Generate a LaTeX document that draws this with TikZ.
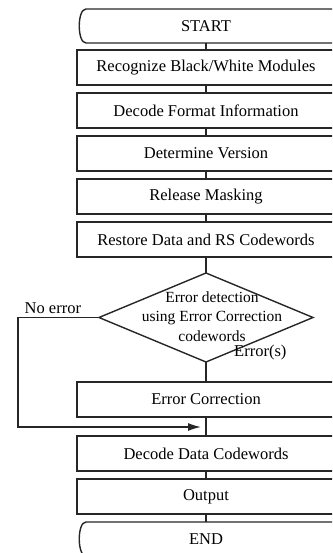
\documentclass[tikz,border=0pt]{standalone}
\usepackage{fontspec}
\setmainfont{Liberation Serif}
\usetikzlibrary{shapes, arrows.meta, positioning}

\begin{document}
\begin{tikzpicture}[x=1pt, y=1pt, node distance=8pt,
		font=\fontsize{16.5}{19.5}\selectfont,
		block/.style={
			rectangle,
			draw=black!85,
			line width=1.4pt,
			minimum width=258pt,
			minimum height=35pt,
			inner sep=0pt,
			outer sep=0pt,
			align=center
		},
		terminal/.style={
			rectangle,
			minimum width=258pt,
			minimum height=34pt,
			inner sep=0pt,
			outer sep=0pt
		},
		decision/.style={
			diamond,
			draw=black!85,
			line width=1.4pt,
			minimum width=214pt,
			minimum height=89pt,
			inner sep=0pt,
			outer sep=0pt
		},
		line/.style={line width=1.4pt, black!85},
		arrow/.style={-{Latex[length=13pt, width=8pt]}, line width=1.4pt, black!85}]

		\useasboundingbox (0,0) rectangle (332,-553);
		\clip (0,0) rectangle (332,-553);

		\node [terminal] (start) at (206,-26) {START};
		\node [block, below=7pt of start] (modules) {Recognize Black/White Modules};
		\node [block, below=of modules] (format) {Decode Format Information};
		\node [block, below=of format] (version) {Determine Version};
		\node [block, below=of version] (masking) {Release Masking};
		\node [block, below=of masking] (restore) {Restore Data and RS Codewords};
		\node [decision, below=16pt of restore] (detect) {};
		\node [align=center, font=\fontsize{15.5}{19.5}\selectfont] (detecttext) at ([xshift=6pt, yshift=1pt]detect.center) {Error detection\\using Error Correction\\codewords};
		\node [above right=1pt and 27pt of detect.south, inner sep=1pt] (errors) {Error(s)};
		\node [block, below=20pt of detect] (correct) {Error Correction};
		\coordinate [below=10pt of correct] (merge);
		\node [block, below=19pt of correct] (decode) {Decode Data Codewords};
		\node [block, below=of decode] (output) {Output};
		\node [terminal, below=of output] (end) {END};

		% terminal outlines, open to the right
		\draw [line] ([xshift=20pt]start.north east) -- ([xshift=9pt]start.north west)
			.. controls (start.north west) and (start.south west) .. ([xshift=9pt]start.south west)
			-- ([xshift=20pt]start.south east);
		\draw [line] ([xshift=20pt]end.north east) -- ([xshift=9pt]end.north west)
			.. controls (end.north west) and (end.south west) .. ([xshift=9pt]end.south west)
			-- ([xshift=20pt]end.south east);

		\draw [line] (start) -- (modules);
		\draw [line] (modules) -- (format);
		\draw [line] (format) -- (version);
		\draw [line] (version) -- (masking);
		\draw [line] (masking) -- (restore);
		\draw [line] (restore) -- (detect);
		\draw [line] (detect) -- (correct);
		\draw [line] (correct) -- (decode);
		\draw [line] (decode) -- (output);
		\draw [line] (output) -- (end);

		\coordinate [left=81pt of detect.west] (bend);
		\draw [arrow, shorten >=5pt] (detect.west) -- node [above, inner sep=3pt, pos=0.57, black] (noerror) {No error} (bend) |- (merge);
	\end{tikzpicture}
\end{document}
